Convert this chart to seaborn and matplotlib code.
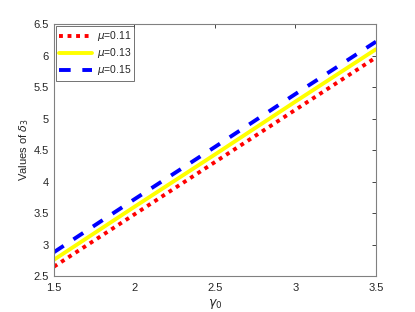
import numpy as np
import pandas as pd
import seaborn as sns
import matplotlib.pyplot as plt
from matplotlib.ticker import FuncFormatter

# data
gamma0 = [1.5, 2.0, 2.5, 3.0, 3.5]
delta_mu011 = [2.65, 3.48, 4.31, 5.14, 5.97]
delta_mu013 = [2.76, 3.60, 4.43, 5.27, 6.10]
delta_mu015 = [2.88, 3.72, 4.55, 5.39, 6.22]
labels = [r'$\mu$=0.11', r'$\mu$=0.13', r'$\mu$=0.15']

df = pd.DataFrame({
    'gamma0': gamma0 * 3,
    'delta3': delta_mu011 + delta_mu013 + delta_mu015,
    'mu': [labels[0]] * 5 + [labels[1]] * 5 + [labels[2]] * 5,
})

sns.set_style('white')
plt.rcParams['font.family'] = ['Liberation Sans', 'DejaVu Sans']
plt.rcParams['mathtext.fontset'] = 'dejavusans'

fig = plt.figure(figsize=(4.15, 3.12), dpi=100)
ax = fig.add_axes([0.130, 0.115, 0.776, 0.808])

styles = {labels[0]: ('red', (0, (1, 1.2))),
          labels[1]: ('yellow', '-'),
          labels[2]: ('blue', (0, (3, 3)))}
for lab in labels:
    col, ls = styles[lab]
    sub = df[df['mu'] == lab]
    sns.lineplot(data=sub, x='gamma0', y='delta3', ax=ax, color=col,
                 linestyle=ls, linewidth=2.8, label=lab)

ax.set_xlim(1.5, 3.5)
ax.set_ylim(2.5, 6.5)
ax.set_xticks([1.5, 2, 2.5, 3, 3.5])
ax.set_yticks([2.5, 3, 3.5, 4, 4.5, 5, 5.5, 6, 6.5])
fmt = FuncFormatter(lambda v, p: '%g' % v)
ax.xaxis.set_major_formatter(fmt)
ax.yaxis.set_major_formatter(fmt)
ax.tick_params(direction='in', length=3, width=0.6, colors='0.15',
               labelsize=8, top=True, right=True, labelcolor='0.15')
ax.tick_params(axis='x', pad=5)
for s in ax.spines.values():
    s.set_color('0.5')
    s.set_linewidth(0.8)

ax.set_xlabel(r'$\gamma_0$', fontsize=9, color='0.15', labelpad=3)
ax.set_ylabel(r'Values of $\delta_3$', fontsize=8, color='0.15', labelpad=2)

leg = ax.legend(loc='upper left', fontsize=7.5, frameon=True, fancybox=False,
                borderaxespad=0.2, handlelength=3.2, borderpad=0.3,
                labelspacing=0.3, handletextpad=0.4)
leg.get_frame().set_edgecolor('0.2')
leg.get_frame().set_linewidth(0.6)

fig.savefig('out.png', dpi=100)
